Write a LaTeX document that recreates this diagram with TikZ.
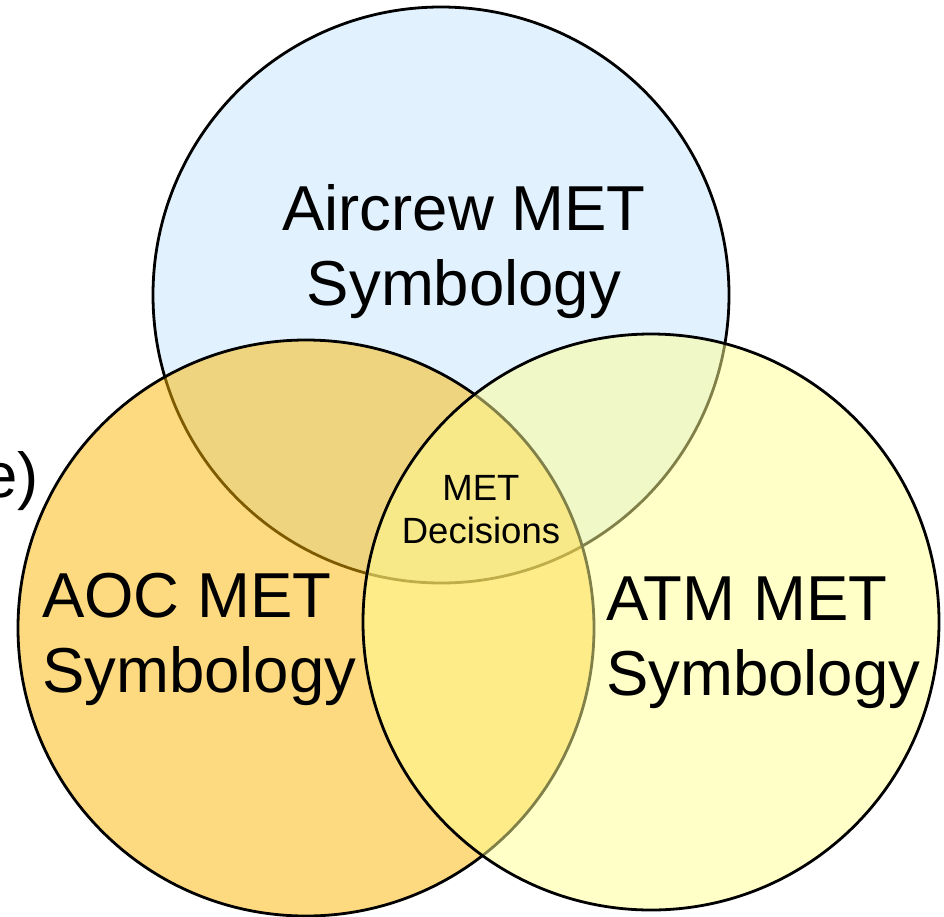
\documentclass[tikz,border=0pt]{standalone}
\usepackage{fontspec}
\setmainfont{Liberation Sans}
\begin{document}
\begin{tikzpicture}[x=1pt,y=-1pt,
  ring/.style={line width=2.8pt, draw=black},
  bigtext/.style={inner sep=0pt, font=\fontsize{63.5}{75}\selectfont},
  smalltext/.style={inner sep=0pt, font=\fontsize{36.5}{43}\selectfont}]
\useasboundingbox (0,0) rectangle (944,916);
\fill[white] (0,0) rectangle (944,916);
% circles
\draw[ring, fill={rgb,255:red,225;green,242;blue,254}] (441,295) circle[radius=288];
\draw[ring, fill={rgb,255:red,253;green,183;blue,1}, fill opacity=0.5] (306,628) circle[radius=288];
\draw[ring, fill={rgb,255:red,255;green,255;blue,145}, fill opacity=0.5] (651,622) circle[radius=288];
% texts
\node[bigtext, anchor=base] (air1) at (464,230) {Aircrew MET};
\node[bigtext, anchor=base] (air2) at (464,305) {Symbology};
\node[bigtext, anchor=base west] (aoc1) at (42,617) {AOC MET};
\node[bigtext, anchor=base west] (aoc2) at (42,692) {Symbology};
\node[bigtext, anchor=base west] (atm1) at (606,620) {ATM MET};
\node[bigtext, anchor=base west] (atm2) at (606,695) {Symbology};
\node[smalltext, anchor=base] (dec1) at (481,500) {MET};
\node[smalltext, anchor=base] (dec2) at (481,543) {Decisions};
\node[bigtext, anchor=base east] (cut) at (39,497) {e)};
\end{tikzpicture}
\end{document}
